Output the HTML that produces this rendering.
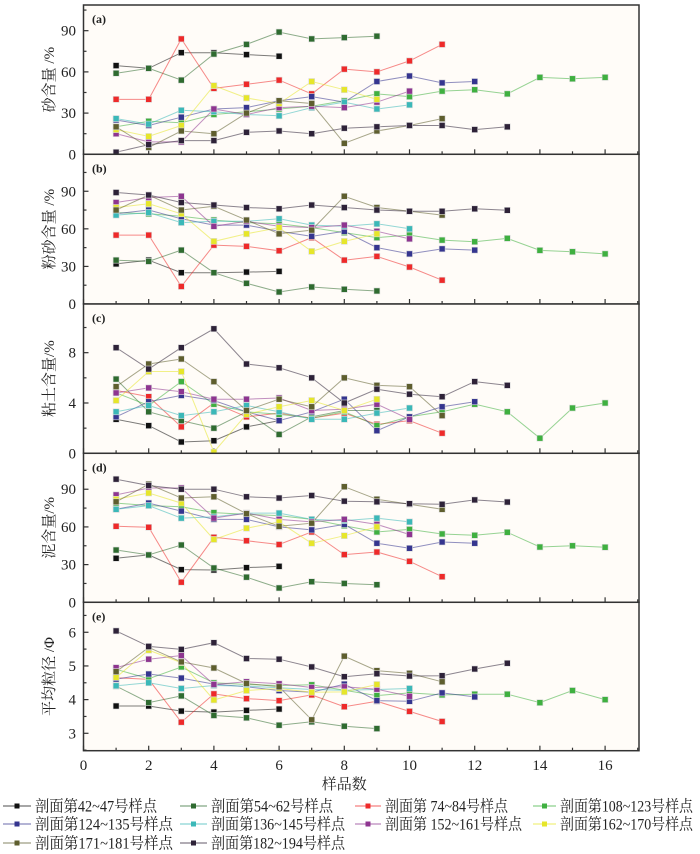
<!DOCTYPE html>
<html><head><meta charset="utf-8"><style>
body{margin:0;background:#fff;}
svg{display:block;font-family:"Liberation Serif","Noto Serif CJK SC",serif;}
.cn{font-family:"Liberation Serif","Noto Serif CJK SC","Noto Sans CJK SC",serif;}
</style></head><body>
<svg id="chart" width="700" height="854" viewBox="0 0 700 854" xmlns="http://www.w3.org/2000/svg">
<rect x="0" y="0" width="700" height="854" fill="#fff"/>
<g id="panels"></g>
<g id="legend"></g>
</svg>
<script>
const seriesNames = ["剖面第42~47号样点","剖面第54~62号样点","剖面第 74~84号样点","剖面第108~123号样点","剖面第124~135号样点","剖面第136~145号样点","剖面第 152~161号样点","剖面第162~170号样点","剖面第171~181号样点","剖面第182~194号样点"];
const seriesColors = ["#111111","#2f6b30","#ee2a2a","#3fb040","#35358f","#3bb8b8","#8e3590","#e6e62a","#5e5e2e","#2e2238"];
const xTicks = [0,2,4,6,8,10,12,14,16];

const sand = [
 [64.6,62.6,74,74,72.6,71.4],
 [59,62.6,54,73,80,89,84,85,86],
 [40,40,84,48,51,54,44,62,60,68,80],
 [20,24,23,29,31,33,35,39,44,42,46,47,44,56,55,56],
 [25,21,27,33,34,39,42,38,53,57,52,53],
 [26,22,32,31,29,28,34,38,33,36],
 [15,9,9,33,29,34,35,34,38,46],
 [18,13,21,50,41,37,53,47,40],
 [20,5,17,15,30,39,37,8,17,21,26],
 [1.5,7,10,10,16,17,15,19,20,21,21,18,20]
];
const silt = [
 [32,35,25,25,25.5,26],
 [35,34,43,25,16.5,9.6,13.6,11.7,10.4],
 [55,55,14,47,46,42.5,53,35,38,29.5,19],
 [73,72,70,67,65,64,61,57,53,55,51,49.7,52.4,42.8,41.7,40],
 [72,75,68,63,63,58,54,58,45,40,44,43],
 [71,73,65,66,66,68,63,62,64,60],
 [81,85,86,62,66,62,61,63,58,52],
 [77,80,72,50,56,61,42,50,56],
 [75,87,75,78,67,56,59,86,77,74,71],
 [89,87,81,79,77,76,79,77,75,74,74,76,74.8]
];
const clay = [
 [2.7,2.2,0.9,1.0,2.1,2.6],
 [5.9,3.3,2.6,2.0,3.3,1.5,2.9,3.4,3.4],
 [5.0,4.5,2.1,4.0,2.9,3.2,2.8,3.2,2.3,2.6,1.6],
 [4.8,3.8,5.7,3.9,3.3,3.1,2.8,3.3,2.2,2.9,3.3,3.9,3.3,1.2,3.6,4.0],
 [2.9,4.1,4.6,4.2,3.3,2.6,3.3,4.3,1.8,2.9,3.7,4.1],
 [3.3,3.8,3.0,3.3,3.8,3.3,2.7,2.7,3.2,3.6],
 [4.8,5.2,4.9,4.3,4.3,4.4,3.4,3.5,3.9,2.7],
 [4.2,6.5,6.5,0.1,3.1,3.7,4.2,3.4,4.3],
 [5.3,7.1,7.5,5.7,3.4,4.3,3.7,6.0,5.4,5.3,3.0],
 [8.4,6.7,8.4,9.9,7.1,6.8,6.0,4.0,5.1,4.7,4.5,5.7,5.4]
];
const mud = [
 [35,37.7,26,25.7,27.6,28.6],
 [41.6,37.7,45.6,27.3,20,11.4,16.4,15,14],
 [60.5,59.7,16,51.7,49,46,56,38,40,32.6,20.4],
 [79,77,76,71.4,70,69,66,61,56,58,54.4,53.3,55.7,44,45,43.8],
 [74,79,72.6,66,66,60,57.6,62,47,43,48,47],
 [74,77,67,68,71,71,66,65,67,64],
 [85.5,91,91,67,71,66,64,66,62,54],
 [82,87,79,50,59,64,47,53,60],
 [80,94,83,84,70.5,60.5,63,92,82,78,74],
 [98,93,90,90,84,83,85,80.5,80,78.5,78,81.5,79.8]
];
const meanSize = [
 [3.81,3.81,3.66,3.63,3.68,3.72],
 [4.4,3.91,4.11,3.53,3.46,3.24,3.34,3.21,3.14],
 [4.65,4.6,3.33,4.17,4.03,3.97,4.14,3.79,3.95,3.65,3.35],
 [4.9,4.62,4.97,4.5,4.45,4.42,4.44,4.28,4.12,4.2,4.14,4.16,4.16,3.91,4.27,4.0],
 [4.61,4.76,4.64,4.46,4.38,4.27,4.22,4.46,3.97,3.95,4.2,4.08],
 [4.41,4.5,4.33,4.42,4.4,4.35,4.3,4.28,4.3,4.33],
 [4.95,5.2,5.31,4.45,4.53,4.47,4.36,4.38,4.31,4.1],
 [4.66,5.47,5.1,3.99,4.27,4.33,4.22,4.23,4.45],
 [4.83,5.55,5.12,4.94,4.48,4.38,3.4,5.29,4.86,4.78,4.53],
 [6.04,5.58,5.49,5.69,5.22,5.2,4.97,4.68,4.77,4.7,4.71,4.91,5.08]
];
const sandTicks=[0,30,60,90], siltTicks=[0,30,60,90], clayTicks=[0,4,8], mudTicks=[0,30,60,90], sizeTicks=[3,4,5,6];

const NS="http://www.w3.org/2000/svg";
function mk(tag,attrs,parent){const e=document.createElementNS(NS,tag);for(const k in attrs)e.setAttribute(k,attrs[k]);parent.appendChild(e);return e;}
const X0=83.5, XR=639, XUNIT=32.6;
function xs(v){return X0+v*XUNIT;}
const panelsG=document.getElementById('panels');
const panels=[
 {key:'a',label:'(a)',title:'砂含量 /%',data:sand,ticks:sandTicks,minor:15,top:5,bottom:154.3,vmin:0,vmax:108.7},
 {key:'b',label:'(b)',title:'粉砂含量 /%',data:silt,ticks:siltTicks,minor:15,top:154.3,bottom:304,vmin:0,vmax:119.5},
 {key:'c',label:'(c)',title:'粘土含量/%',data:clay,ticks:clayTicks,minor:2,top:304,bottom:453.3,vmin:0,vmax:11.87},
 {key:'d',label:'(d)',title:'泥含量/%',data:mud,ticks:mudTicks,minor:15,top:453.3,bottom:602.3,vmin:0,vmax:118.6},
 {key:'e',label:'(e)',title:'平均粒径 /Φ',data:meanSize,ticks:sizeTicks,minor:0.5,top:602.3,bottom:750.7,vmin:2.483,vmax:6.89}
];
panels.forEach(p=>{
 const g=mk('g',{},panelsG);
 
 
 const ys=v=>p.bottom-(v-p.vmin)/(p.vmax-p.vmin)*(p.bottom-p.top);
 const bg=mk('rect',{x:X0,y:p.top,width:XR-X0,height:p.bottom-p.top,fill:'#fffcf8',stroke:'#333','stroke-width':1.5},g);
 
 
 for(let i=0;i<=17;i++){const len=i%2===0?5:3;mk('line',{x1:xs(i),x2:xs(i),y1:p.bottom,y2:p.bottom-len,stroke:'#333','stroke-width':1.2},g);}
 for(let v=Math.ceil(p.vmin/p.minor)*p.minor;v<=p.vmax;v+=p.minor){const major=p.ticks.some(t=>Math.abs(t-v)<1e-6);mk('line',{x1:X0,x2:X0+(major?5:3),y1:ys(v),y2:ys(v),stroke:'#333','stroke-width':1.2},g);}
 p.ticks.forEach(t=>{const tx=mk('text',{x:76,y:ys(t)+5,'text-anchor':'end','font-size':15,fill:'#222'},g);tx.textContent=t;
  
  });
 const lab=mk('text',{x:92,y:p.top+18,'font-size':12,'font-weight':'bold',fill:'#222'},g);lab.textContent=p.label;
 
 
 const cy=(p.top+p.bottom)/2;
 const tt=mk('text',{x:0,y:0,'font-size':15,fill:'#222','text-anchor':'middle',transform:`translate(54,${cy}) rotate(-90)`,class:'cn'},g);tt.textContent=p.title;
 
 
 p.data.forEach((arr,si)=>{
  const pts=arr.map((v,i)=>xs(i+1).toFixed(1)+','+ys(v).toFixed(1)).join(' ');
  const pl=mk('polyline',{points:pts,fill:'none',stroke:seriesColors[si],'stroke-opacity':0.55,'stroke-width':1},g);
  
  
 });
 p.data.forEach((arr,si)=>{
  arr.forEach((v,i)=>{
   const r=mk('rect',{x:xs(i+1)-3,y:ys(v)-3,width:6,height:6,fill:seriesColors[si],stroke:'#ddd','stroke-width':0.6},g);
   
   
  });
 });
});
xTicks.forEach(t=>{const tx=mk('text',{x:xs(t),y:770,'text-anchor':'middle','font-size':15,fill:'#222'},panelsG);tx.textContent=t;
 
 });
const xt=mk('text',{x:xs(8),y:789,'text-anchor':'middle','font-size':15,fill:'#222',class:'cn'},panelsG);xt.textContent='样品数';


const lg=document.getElementById('legend');
const lineX=[3,180,355,533], textX=[35,211,385,560], rowY=[806,824,843];
const legendTextW=[[122,122,123,133],[138,134,137,133],[138,134,137,133]];
seriesNames.forEach((n,i)=>{
 const c=i%4, r=Math.floor(i/4);
 const g=mk('g',{},lg);
 
 
 mk('line',{x1:lineX[c],x2:textX[c]-4,y1:rowY[r],y2:rowY[r],stroke:seriesColors[i],'stroke-opacity':0.6,'stroke-width':1.2},g);
 mk('rect',{x:(lineX[c]+textX[c]-4)/2-2.5,y:rowY[r]-2.5,width:5,height:5,fill:seriesColors[i]},g);
 const t=mk('text',{x:textX[c],y:rowY[r]+5.5,'font-size':16,fill:'#222',class:'cn',textLength:legendTextW[r][c],lengthAdjust:'spacingAndGlyphs'},g);t.textContent=n;
});
</script>
</body></html>
